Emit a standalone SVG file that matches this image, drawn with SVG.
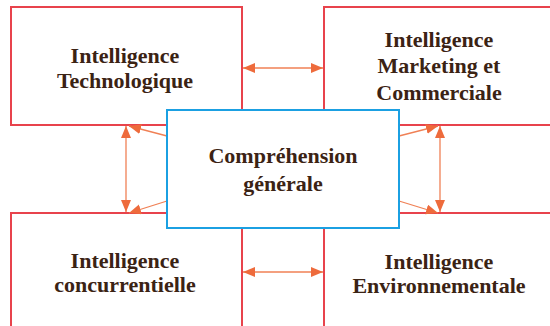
<svg xmlns="http://www.w3.org/2000/svg" width="550" height="326" viewBox="0 0 550 326">
<style>
.box{fill:#ffffff;stroke:#e8434c;stroke-width:2}
.center{fill:#ffffff;stroke:#1ba0e2;stroke-width:2}
.lbl{font-family:"Liberation Serif","Times New Roman",serif;font-weight:bold;font-size:22px;fill:#3b2314;text-anchor:middle}
.conn{stroke:#f08055;stroke-width:1.3;fill:none;marker-start:url(#ah);marker-end:url(#ah)}
.conn1{stroke:#f08055;stroke-width:1.3;fill:none;marker-end:url(#ah)}
</style>
<defs>
<marker id="ah" markerUnits="userSpaceOnUse" markerWidth="13" markerHeight="11" refX="12" refY="5" orient="auto-start-reverse">
<path d="M0,0 L12,5 L0,10 z" fill="#ee6b3c"/>
</marker>
</defs>
<rect width="550" height="326" fill="#ffffff"/>
<g id="node-tech">
<rect class="box" x="11" y="7" width="231" height="118"/>
<text class="lbl" x="125" y="63">Intelligence</text>
<text class="lbl" x="125" y="88">Technologique</text>
</g>
<g id="node-marketing">
<rect class="box" x="324" y="7" width="240" height="118"/>
<text class="lbl" x="439" y="47">Intelligence</text>
<text class="lbl" x="439" y="73">Marketing et</text>
<text class="lbl" x="439" y="100">Commerciale</text>
</g>
<g id="node-concurrentielle">
<rect class="box" x="11" y="213" width="231" height="130"/>
<text class="lbl" x="125" y="268">Intelligence</text>
<text class="lbl" x="125" y="292">concurrentielle</text>
</g>
<g id="node-environnementale">
<rect class="box" x="324" y="213" width="240" height="130"/>
<text class="lbl" x="439" y="269">Intelligence</text>
<text class="lbl" x="439" y="293">Environnementale</text>
</g>
<g id="connectors">
<line class="conn" x1="243" y1="68" x2="323" y2="68"/>
<line class="conn" x1="243" y1="272" x2="323" y2="272"/>
<line class="conn" x1="126" y1="126" x2="126" y2="212"/>
<line class="conn" x1="440" y1="126" x2="440" y2="212"/>
<line class="conn1" x1="167" y1="136" x2="129" y2="126"/>
<line class="conn1" x1="167" y1="201" x2="129" y2="213"/>
<line class="conn1" x1="399" y1="136" x2="438" y2="126"/>
<line class="conn1" x1="399" y1="201" x2="438" y2="213"/>
</g>
<g id="node-center">
<rect class="center" x="167" y="110" width="232" height="118"/>
<text class="lbl" x="283" y="163">Compréhension</text>
<text class="lbl" x="283" y="191">générale</text>
</g>
</svg>
